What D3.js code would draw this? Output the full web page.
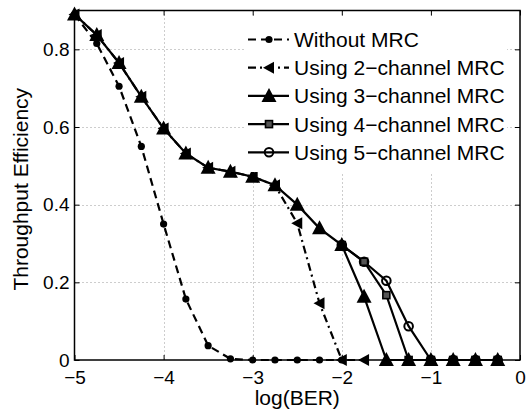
<!DOCTYPE html>
<html>
<head>
<meta charset="utf-8">
<script src="https://cdn.jsdelivr.net/npm/d3@7"></script>
<style>
  body { margin: 0; background: #fff; }
  text { font-family: "Liberation Sans", Arial, sans-serif; fill: #000; }
</style>
</head>
<body>
<svg id="chart" width="529" height="411"></svg>
<script>
// log(BER) sample points
var logBER = [-5, -4.75, -4.5, -4.25, -4, -3.75, -3.5, -3.25, -3, -2.75,
              -2.5, -2.25, -2, -1.75, -1.5, -1.25, -1, -0.75, -0.5, -0.25];
// 4- and 5-channel curves coincide with 3-channel up to -2, only the tail is drawn
var tailBER = [-2, -1.75, -1.5, -1.25, -1, -0.75, -0.5, -0.25];

// throughput efficiency per scheme
var withoutMRC = [0.89, 0.815, 0.705, 0.55, 0.35, 0.157, 0.037, 0.003, 0, 0,
                  0, 0, 0];
var mrc2 = [0.89, 0.837, 0.765, 0.678, 0.596, 0.532, 0.495, 0.485, 0.472, 0.45,
            0.352, 0.146, 0, 0];
var mrc3 = [0.89, 0.837, 0.765, 0.678, 0.596, 0.532, 0.495, 0.485, 0.472, 0.45,
            0.40, 0.339, 0.296, 0.163, 0, 0, 0, 0, 0, 0];
var mrc4 = [0.296, 0.253, 0.167, 0, 0, 0, 0, 0];
var mrc5 = [0.296, 0.253, 0.204, 0.087, 0, 0, 0, 0];

var xTicks = [-5, -4, -3, -2, -1, 0];
var yTicks = [0, 0.2, 0.4, 0.6, 0.8];

var seriesNames = ["Without MRC", "Using 2\u2212channel MRC", "Using 3\u2212channel MRC",
                   "Using 4\u2212channel MRC", "Using 5\u2212channel MRC"];

var plotLeft = 74.5, plotRight = 520, plotTop = 10.5, plotBottom = 360;

var x = d3.scaleLinear().domain([-5, 0]).range([plotLeft, plotRight]);
var y = d3.scaleLinear().domain([0, 0.9]).range([plotBottom, plotTop]);

var svg = d3.select("#chart");

// grid (dotted)
var grid = svg.append("g").attr("stroke", "#9a9a9a").attr("stroke-width", 1)
    .attr("stroke-dasharray", "1,3");
grid.selectAll(".gx").data(xTicks.slice(1, -1)).enter().append("line")
    .attr("x1", function(d) { return Math.round(x(d)) + 0.5; })
    .attr("x2", function(d) { return Math.round(x(d)) + 0.5; })
    .attr("y1", plotTop).attr("y2", plotBottom);
grid.selectAll(".gy").data(yTicks.slice(1)).enter().append("line")
    .attr("y1", function(d) { return Math.round(y(d)) + 0.5; })
    .attr("y2", function(d) { return Math.round(y(d)) + 0.5; })
    .attr("x1", plotLeft).attr("x2", plotRight);

// axes, MATLAB style ticks inside
var xAxis = d3.axisBottom(x).tickValues(xTicks).tickSizeInner(-5).tickSizeOuter(0)
    .tickPadding(11).tickFormat(function(d) { return d === 0 ? "0" : "\u2212" + Math.abs(d); });
var yAxis = d3.axisLeft(y).tickValues(yTicks).tickSizeInner(-5).tickSizeOuter(0)
    .tickPadding(5).tickFormat(function(d) { return d === 0 ? "0" : d3.format(".1f")(d); });

svg.append("g").attr("transform", "translate(0," + plotBottom + ")").call(xAxis);
svg.append("g").attr("transform", "translate(" + plotLeft + ",0)").call(yAxis);
svg.append("g").attr("transform", "translate(0," + plotTop + ")")
    .call(d3.axisTop(x).tickValues(xTicks).tickSizeInner(-5).tickSizeOuter(0).tickFormat(""));
svg.append("g").attr("transform", "translate(" + plotRight + ",0)")
    .call(d3.axisRight(y).tickValues(yTicks).tickSizeInner(-5).tickSizeOuter(0).tickFormat(""));

svg.selectAll(".domain").remove();
svg.selectAll(".tick line").attr("stroke", "#000").attr("stroke-width", 1);
svg.selectAll(".tick text").style("font-size", "19px").attr("fill", "#000");

svg.append("rect").attr("x", plotLeft).attr("y", plotTop)
    .attr("width", plotRight - plotLeft).attr("height", plotBottom - plotTop)
    .attr("fill", "none").attr("stroke", "#000").attr("stroke-width", 1.5);

// axis labels
svg.append("text").attr("x", (plotLeft + plotRight) / 2).attr("y", 405)
    .attr("text-anchor", "middle").style("font-size", "21px").text("log(BER)");
svg.append("text").attr("transform", "translate(28," + ((plotTop + plotBottom) / 2 + 4) + ") rotate(-90)")
    .attr("text-anchor", "middle").style("font-size", "21px").text("Throughput Efficiency");

// marker shapes
var triUp = "M0,-8L7.5,6L-7.5,6Z";
var triLeft = "M-6,0L5,-6L5,6Z";

function drawMarker(g, kind) {
    if (kind === "dot") g.append("circle").attr("r", 3.6).attr("fill", "#000");
    else if (kind === "left") g.append("path").attr("d", triLeft).attr("fill", "#000");
    else if (kind === "up") g.append("path").attr("d", triUp).attr("fill", "#000");
    else if (kind === "square") g.append("rect").attr("x", -3.5).attr("y", -3.5)
        .attr("width", 7).attr("height", 7).attr("fill", "#555").attr("stroke", "#000").attr("stroke-width", 1.6);
    else if (kind === "circle") g.append("circle").attr("r", 4.3).attr("fill", "none")
        .attr("stroke", "#000").attr("stroke-width", 2);
}

var series = [
    { name: seriesNames[0], xs: logBER, values: withoutMRC, dash: "8,5", marker: "dot", legendRow: 0 },
    { name: seriesNames[1], xs: logBER, values: mrc2, dash: "8,4,2,4", marker: "left", legendRow: 1 },
    { name: seriesNames[4], xs: tailBER, values: mrc5, dash: null, marker: "circle", legendRow: 4 },
    { name: seriesNames[3], xs: tailBER, values: mrc4, dash: null, marker: "square", legendRow: 3 },
    { name: seriesNames[2], xs: logBER, values: mrc3, dash: null, marker: "up", legendRow: 2 }
];

var line = d3.line().x(function(d) { return x(d[0]); }).y(function(d) { return y(d[1]); });

series.forEach(function(s) {
    var pts = s.values.map(function(v, i) { return [s.xs[i], v]; });
    svg.append("path").datum(pts).attr("d", line).attr("fill", "none")
        .attr("stroke", "#000").attr("stroke-width", 2.2)
        .attr("stroke-dasharray", s.dash);
    svg.selectAll(null).data(pts).enter().append("g")
        .attr("transform", function(d) { return "translate(" + x(d[0]) + "," + y(d[1]) + ")"; })
        .each(function() { drawMarker(d3.select(this), s.marker); });
});

// legend
var legend = svg.append("g");
legend.append("rect").attr("x", 245).attr("y", 18).attr("width", 262).attr("height", 154)
    .attr("fill", "#fff");
var rowGap = 28.2, firstRow = 39.5;
series.forEach(function(s) {
    var ry = firstRow + s.legendRow * rowGap;
    var g = legend.append("g");
    g.append("line").attr("x1", 248).attr("x2", 289).attr("y1", ry).attr("y2", ry)
        .attr("stroke", "#000").attr("stroke-width", 2.2).attr("stroke-dasharray", s.dash);
    var m = g.append("g").attr("transform", "translate(269," + ry + ")");
    drawMarker(m, s.marker);
    g.append("text").attr("x", 294).attr("y", ry).attr("dy", "0.36em")
        .style("font-size", "21px").text(s.name);
});
</script>
</body>
</html>
